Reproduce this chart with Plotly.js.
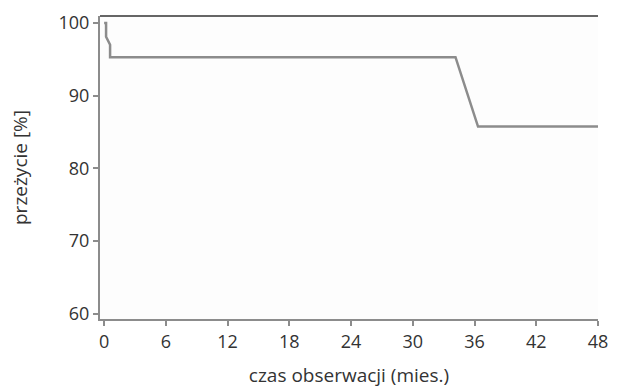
<!DOCTYPE html>
<html>
<head>
<meta charset="utf-8">
<script src="https://cdn.plot.ly/plotly-3.0.1.min.js"></script>
<style>body{margin:0;background:#fff}#chart{width:617px;height:390px}</style>
</head>
<body>
<div id="chart"></div>
<script>
// Survival curve (months, percent)
var months   = [0, 0.19, 0.19, 0.58, 0.58, 34.15, 36.34, 48];
var survival = [100, 100, 98.1, 97.0, 95.3, 95.3, 85.75, 85.75];
var xTicks = [0, 6, 12, 18, 24, 30, 36, 42, 48];
var yTicks = [60, 70, 80, 90, 100];
var xTitle = 'czas obserwacji (mies.)';
var yTitle = 'przeżycie [%]';

var trace = {
  x: months, y: survival, type: 'scatter', mode: 'lines',
  line: {color: '#8c8c8c', width: 2.5},
  hoverinfo: 'skip', showlegend: false
};
var font = {family: 'Open Sans, Noto Sans, sans-serif', size: 18, color: '#333'};
var titleFont = {family: 'Open Sans, Noto Sans, sans-serif', size: 19, color: '#333'};
var layout = {
  width: 617, height: 390,
  margin: {l: 100, r: 19, t: 16, b: 71},
  paper_bgcolor: '#ffffff', plot_bgcolor: '#fdfdfd',
  font: font,
  xaxis: {
    range: [-0.4, 48], tickvals: xTicks, ticktext: xTicks.map(String),
    showgrid: false, zeroline: false,
    showline: true, linecolor: '#8c8c8c', linewidth: 2,
    ticks: 'outside', ticklen: 5, tickwidth: 2, tickcolor: '#8c8c8c',
    tickfont: font,
    title: {text: xTitle, font: titleFont, standoff: 17}
  },
  yaxis: {
    range: [59.3, 100.96], tickvals: yTicks, ticktext: yTicks.map(String),
    showgrid: false, zeroline: false,
    showline: true, linecolor: '#8c8c8c', linewidth: 2,
    ticks: 'outside', ticklen: 5, tickwidth: 2, tickcolor: '#8c8c8c',
    tickfont: font,
    title: {text: yTitle, font: titleFont, standoff: 26}
  },
  shapes: [{type: 'line', xref: 'paper', yref: 'paper', x0: 0, x1: 1, y0: 1, y1: 1,
            line: {color: '#333', width: 1.5}}]
};
Plotly.newPlot('chart', [trace], layout, {displayModeBar: false, staticPlot: true});
</script>
</body>
</html>
